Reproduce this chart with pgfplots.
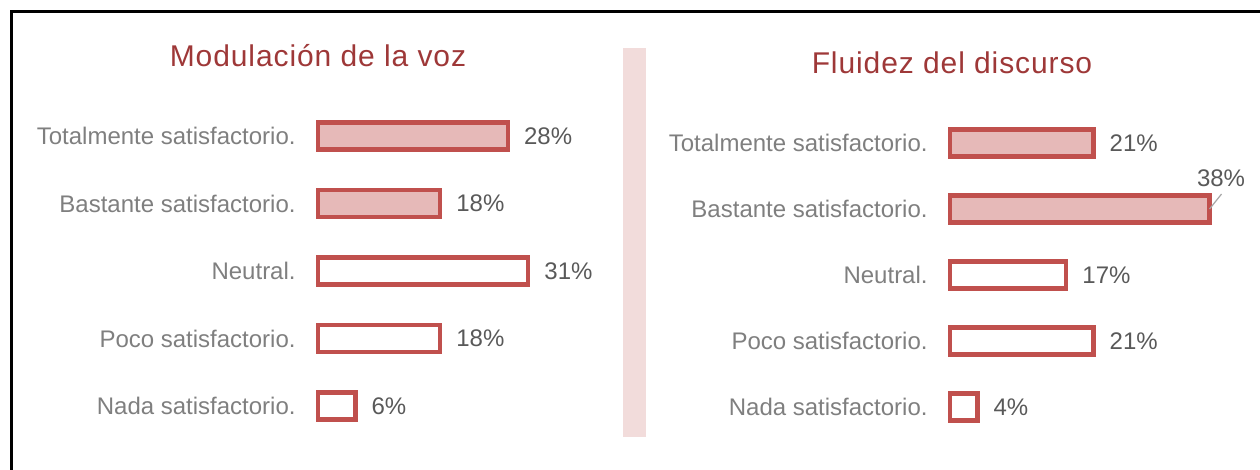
\documentclass[border=0pt]{standalone}
\usepackage{pgfplots}
\pgfplotsset{compat=1.18}
\usepackage{fontspec}
\setmainfont{Liberation Sans}
\newfontfamily\titlefont[LetterSpace=3]{Liberation Sans}
\definecolor{barred}{HTML}{C0504D}
\definecolor{barfill}{HTML}{E6B9B8}
\definecolor{titlered}{RGB}{158,56,56}
\definecolor{catgray}{HTML}{7F7F7F}
\definecolor{valgray}{HTML}{595959}
\definecolor{divider}{HTML}{F2DCDB}
\definecolor{leader}{HTML}{A6A6A6}

\pgfplotsset{mybars/.style={
  xbar, scale only axis, anchor=south west,
  xmin=0, xmax=40, ymin=-0.5, ymax=4.5, y dir=reverse,
  hide x axis, axis y line*=left, y axis line style={draw=none},
  ytick={0,...,4}, major tick length=0pt,
  yticklabels={Totalmente satisfactorio., Bastante satisfactorio., Neutral., Poco satisfactorio., Nada satisfactorio.},
  yticklabel style={font=\fontsize{12}{14}\selectfont, color=catgray, inner sep=0pt, anchor=east, xshift=-11pt},
  bar width=13.5pt, bar shift=0pt,
  clip=false,
  /pgf/number format/assume math mode=true,
  point meta=explicit,
  nodes near coords={\pgfmathprintnumber{\pgfplotspointmeta}\%},
  nodes near coords style={font=\fontsize{12}{14}\selectfont, color=valgray, anchor=west, inner sep=0pt, xshift=7pt},
}}

\begin{document}
\begin{tikzpicture}
\path[use as bounding box] (0,0) rectangle (630pt,235pt);
% frame (partially visible)
\draw[black, line width=1.5pt] (5.75pt,-2pt) -- (5.75pt,229.25pt) -- (632pt,229.25pt);
% divider
\fill[divider] (311.5pt,16.5pt) rectangle (323pt,211pt);
% titles
\node[font=\titlefont\fontsize{15}{18}\selectfont, text=titlered] at (159pt,207pt) {Modulación de la voz};
\node[font=\titlefont\fontsize{15}{18}\selectfont, text=titlered] at (476pt,203.5pt) {Fluidez del discurso};

\begin{axis}[mybars, at={(159pt,15.1pt)}, width=135.6pt, height=168.75pt]
\addplot[draw=barred, line width=2.3pt, fill=barfill] coordinates {(28,0) [28] (18,1) [18]};
\addplot[draw=barred, line width=2.3pt, fill=white] coordinates {(31,2) [31] (18,3) [18] (5.5,4) [6]};
\end{axis}

\begin{axis}[mybars, at={(475pt,15pt)}, width=136.6pt, height=165pt]
\addplot[draw=barred, line width=2.3pt, fill=barfill] coordinates {(21,0) [21]};
\addplot[draw=barred, line width=2.3pt, fill=barfill, nodes near coords style={anchor=center, xshift=-1.25pt, yshift=15.5pt}] coordinates {(38,1) [38]};
\addplot[draw=barred, line width=2.3pt, fill=white] coordinates {(17,2) [17] (21,3) [21] (4,4) [4]};
\draw[leader, line width=0.6pt] (axis cs:38,1) ++(0pt,0pt) -- ++(6pt,7.5pt);
\end{axis}
\end{tikzpicture}
\end{document}
